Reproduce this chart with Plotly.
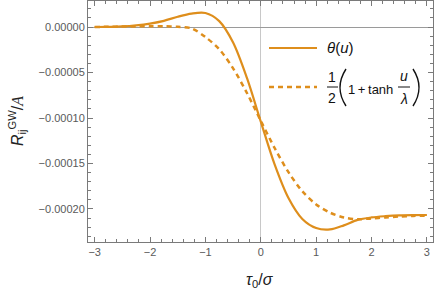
import plotly.graph_objects as go

# ---- data ----
x_vals = [-3.0, -2.75, -2.5, -2.25, -2.0, -1.75, -1.5, -1.25, -1.0, -0.75, -0.5, -0.25,
          0.0, 0.25, 0.5, 0.75, 1.0, 1.25, 1.5, 1.75, 2.0, 2.25, 2.5, 2.75, 3.0]
theta_vals = [0.0, 0.2e-6, 0.6e-6, 1.8e-6, 3.8e-6, 6.8e-6, 11.3e-6, 14.8e-6, 15.4e-6, 6.5e-6,
              -17e-6, -56e-6, -104e-6, -151e-6, -188e-6, -211e-6, -221e-6, -222.5e-6,
              -218e-6, -212e-6, -209.3e-6, -207.9e-6, -207.0e-6, -206.7e-6, -206.6e-6]
tanh_vals = [0.0, 0.3e-6, 0.5e-6, 0.7e-6, 0.8e-6, 0.8e-6, 0.3e-6, -1.5e-6, -11e-6, -24.5e-6,
             -45.5e-6, -72.5e-6, -103e-6, -133e-6, -159.5e-6, -180.5e-6, -195e-6, -204e-6,
             -209.3e-6, -211.3e-6, -210.3e-6, -209.4e-6, -208.3e-6, -207.6e-6, -207.3e-6]
x_ticks = [-3, -2, -1, 0, 1, 2, 3]
y_ticks = [0.0, -0.00005, -0.0001, -0.00015, -0.0002]

ORANGE = "rgb(222,142,28)"
AXC = "#7a7a7a"
TXT = "#5a5a5a"

W, H = 436, 292
L, R, T, B = 88, 3, 1, 50
PW, PH = W - L - R, H - T - B


def px(x):
    return (x - L) / PW


def py(y):
    return 1 - (y - T) / PH


fig = go.Figure()
fig.add_trace(go.Scatter(x=x_vals, y=theta_vals, mode="lines",
                         line=dict(color=ORANGE, width=2.2, shape="spline", smoothing=0.9),
                         showlegend=False))
fig.add_trace(go.Scatter(x=x_vals, y=tanh_vals, mode="lines",
                         line=dict(color=ORANGE, width=2.5, dash="5px,4px", shape="spline", smoothing=0.9),
                         showlegend=False))

axis_common = dict(showline=True, linecolor=AXC, linewidth=1, mirror="allticks",
                   ticks="inside", ticklen=5, tickcolor=AXC, tickwidth=1, automargin=False,
                   showgrid=False, tickfont=dict(family="Liberation Sans, Arial", size=11, color=TXT))

fig.update_xaxes(range=[-3.12, 3.11], tickvals=x_ticks,
                 ticktext=[("\u2212" + str(-v)) if v < 0 else str(v) for v in x_ticks],
                 zeroline=True, zerolinecolor="#c8c8c8", zerolinewidth=1,
                 minor=dict(ticks="inside", ticklen=3, tickcolor=AXC, dtick=0.2, tick0=0, showgrid=False),
                 **axis_common)
fig.update_yaxes(range=[-2.363e-4, 2.86e-5], tickvals=y_ticks,
                 ticktext=[("\u2212" if v < 0 else "") + f"{abs(v):.5f}" for v in y_ticks],
                 zeroline=True, zerolinecolor="#9a9a9a", zerolinewidth=1,
                 minor=dict(ticks="inside", ticklen=3, tickcolor=AXC, dtick=1e-5, tick0=0, showgrid=False),
                 **axis_common)

FONT = "Liberation Sans, Arial"
BLK = "#111"


def label(xp, yp, text, size, xanchor="center", color=BLK, **kw):
    return dict(x=px(xp), y=py(yp), xref="paper", yref="paper", showarrow=False,
                xanchor=xanchor, yanchor="middle", borderpad=0, text=text,
                font=dict(family=FONT, size=size, color=color), **kw)


ann = [
    # axis titles
    label(260, 280, "<i>τ</i><sub>0</sub>/<i>σ</i>", 16, color="#222"),
    label(17, 121, "<i>R</i><sub>ij</sub><sup>GW</sup>/<span style='font-family:Liberation Serif'><i>A</i></span>",
          16, color="#222", textangle=-90),
    # legend labels
    label(326, 48, "<i>θ</i>(<i>u</i>)", 15, xanchor="left"),
    label(332, 77, "1", 14),
    label(332, 98, "2", 14),
    label(347, 89, "1\u2009+\u2009tanh", 13, xanchor="left"),
    label(404, 76, "<i>u</i>", 14),
    label(404, 99, "<i>λ</i>", 14),
]


def paren(x_end, x_ctrl, y0, y1):
    ym = (y0 + y1) / 2
    return dict(type="path", xref="paper", yref="paper",
                path=f"M {px(x_end)},{py(y0)} Q {px(x_ctrl)},{py(ym)} {px(x_end)},{py(y1)}",
                line=dict(color=BLK, width=1.4))


shapes = [
    dict(type="line", xref="paper", yref="paper", x0=px(269), x1=px(317), y0=py(48), y1=py(48),
         line=dict(color=ORANGE, width=2.2)),
    dict(type="line", xref="paper", yref="paper", x0=px(269), x1=px(317), y0=py(87), y1=py(87),
         line=dict(color=ORANGE, width=2.5, dash="5px,4px")),
    dict(type="line", xref="paper", yref="paper", x0=px(327), x1=px(338), y0=py(87), y1=py(87),
         line=dict(color=BLK, width=1)),
    dict(type="line", xref="paper", yref="paper", x0=px(398), x1=px(410), y0=py(87), y1=py(87),
         line=dict(color=BLK, width=1)),
    paren(346, 334, 69, 106),
    paren(413, 425, 69, 106),
]

fig.update_layout(width=W, height=H, margin=dict(l=L, r=R, t=T, b=B, autoexpand=False),
                  plot_bgcolor="white", paper_bgcolor="white",
                  annotations=ann, shapes=shapes, showlegend=False)
fig.write_html("out.html", config={"displayModeBar": False},
               post_script="document.body.style.margin='0';document.body.style.overflow='hidden';")
